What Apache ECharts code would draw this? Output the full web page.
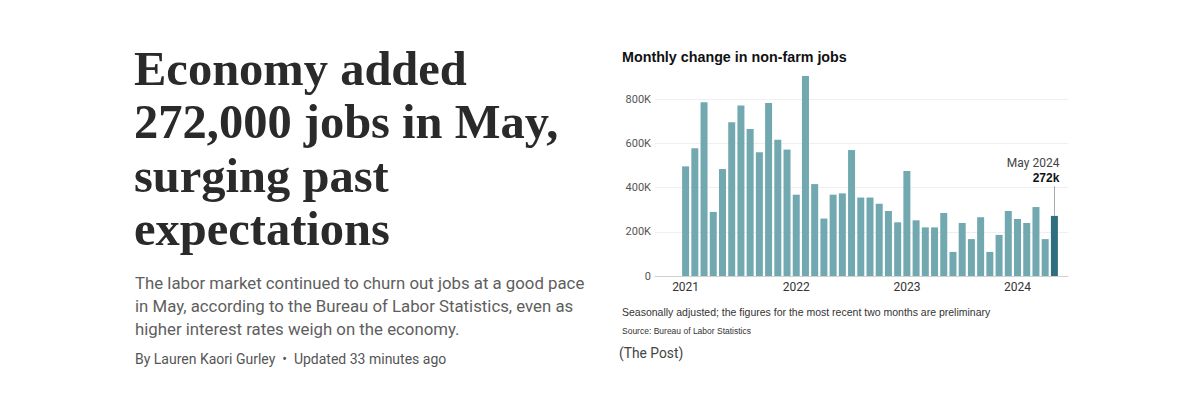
<!DOCTYPE html>
<html>
<head>
<meta charset="utf-8">
<script src="https://cdn.jsdelivr.net/npm/echarts@6/dist/echarts.min.js"></script>
<style>
  html, body { margin: 0; padding: 0; background: #fff; }
  #main { width: 1200px; height: 397px; }
</style>
</head>
<body>
<div id="main"></div>
<script>
// months shown on the chart, Jan 2021 .. May 2024
const months = [
  '2021-01', '2021-02', '2021-03', '2021-04', '2021-05', '2021-06',
  '2021-07', '2021-08', '2021-09', '2021-10', '2021-11', '2021-12',
  '2022-01', '2022-02', '2022-03', '2022-04', '2022-05', '2022-06',
  '2022-07', '2022-08', '2022-09', '2022-10', '2022-11', '2022-12',
  '2023-01', '2023-02', '2023-03', '2023-04', '2023-05', '2023-06',
  '2023-07', '2023-08', '2023-09', '2023-10', '2023-11', '2023-12',
  '2024-01', '2024-02', '2024-03', '2024-04', '2024-05'
];
// monthly change in non-farm jobs, thousands
const jobsAdded = [
  496, 578, 786, 290, 484, 696, 771, 665, 560, 783, 617, 572,
  368, 905, 416, 260, 368, 374, 570, 355, 355, 327, 294, 243,
  475, 252, 220, 220, 285, 109, 240, 167, 266, 109, 186, 294,
  258, 240, 312, 167, 272
];
const yTicks = [0, 200, 400, 600, 800];

const headline = ['Economy added', '272,000 jobs in May,', 'surging past', 'expectations'];
const dek = [
  'The labor market continued to churn out jobs at a good pace',
  'in May, according to the Bureau of Labor Statistics, even as',
  'higher interest rates weigh on the economy.'
];

const barColor = '#72a9b1';
const lastColor = '#2e6e80';
const lastIdx = months.length - 1;

const chart = echarts.init(document.getElementById('main'), null, { renderer: 'svg' });

const texts = [];
headline.forEach((line, i) => {
  texts.push({
    type: 'text', left: 134, top: 44 + i * 53.3,
    style: { text: line, font: 'bold 48.5px "Liberation Serif", serif', fill: '#2a2a2a' }
  });
});
dek.forEach((line, i) => {
  texts.push({
    type: 'text', left: 135, top: 274 + i * 23,
    style: { text: line, font: '16.8px Roboto, sans-serif', fill: '#5e5e5e' }
  });
});
texts.push(
  {
    type: 'text', left: 135, top: 352,
    style: { text: 'By Lauren Kaori Gurley  \u2022  Updated 33 minutes ago', font: '14px Roboto, sans-serif', fill: '#555' }
  },
  {
    type: 'text', left: 622, top: 50,
    style: { text: 'Monthly change in non-farm jobs', font: 'bold 14.3px "Liberation Sans", sans-serif', fill: '#111' }
  },
  {
    type: 'text', left: 622, top: 306,
    style: { text: 'Seasonally adjusted; the figures for the most recent two months are preliminary', font: '10.5px "Liberation Sans", sans-serif', fill: '#333' }
  },
  {
    type: 'text', left: 622, top: 326,
    style: { text: 'Source: Bureau of Labor Statistics', font: '8.5px "Liberation Sans", sans-serif', fill: '#333' }
  },
  {
    type: 'text', left: 619, top: 346,
    style: { text: '(The Post)', font: '13.8px Roboto, sans-serif', fill: '#444' }
  }
);

chart.setOption({
  backgroundColor: '#fff',
  animation: false,
  graphic: texts,
  grid: [
    // bars
    { left: 681, right: 141, top: 55, bottom: 121 },
    // frame: gridlines, y labels and zero line (wider than the bars)
    { left: 655, right: 132, top: 55, bottom: 121 }
  ],
  xAxis: [
    {
      gridIndex: 0,
      type: 'category',
      data: months,
      axisLine: { show: false },
      axisTick: { show: false },
      axisLabel: {
        margin: 5,
        color: '#333',
        fontSize: 12,
        fontFamily: 'Roboto, sans-serif',
        interval: (i, v) => v.endsWith('-01'),
        formatter: v => v.slice(0, 4)
      }
    },
    {
      gridIndex: 1,
      type: 'value',
      min: 0, max: 1,
      axisLine: { show: true, lineStyle: { color: '#cfcfcf', width: 1 } },
      axisTick: { show: false },
      axisLabel: { show: false },
      splitLine: { show: false }
    }
  ],
  yAxis: [
    {
      gridIndex: 0,
      type: 'value',
      min: 0, max: 1000, interval: 200,
      show: false,
      splitLine: { show: false }
    },
    {
      gridIndex: 1,
      type: 'value',
      min: 0, max: 1000, interval: 200,
      axisLine: { show: false },
      axisTick: { show: false },
      axisLabel: {
        margin: 4,
        color: '#555',
        fontSize: 11,
        fontFamily: 'Roboto, sans-serif',
        showMaxLabel: false,
        formatter: v => (yTicks.includes(v) ? (v === 0 ? '0' : v + 'K') : '')
      },
      splitLine: {
        show: true,
        showMinLine: false,
        showMaxLine: false,
        lineStyle: { color: '#efefef', width: 1 }
      }
    }
  ],
  series: [
    {
      type: 'bar',
      xAxisIndex: 0,
      yAxisIndex: 0,
      barWidth: 7,
      data: jobsAdded.map((v, i) => ({
        value: v,
        itemStyle: { color: i === lastIdx ? lastColor : barColor }
      })),
      markLine: {
        silent: true,
        symbol: 'none',
        lineStyle: { color: '#aaa', width: 1, type: 'solid' },
        label: { show: false },
        data: [[
          { coord: [lastIdx, jobsAdded[lastIdx]] },
          { coord: [lastIdx, 407] }
        ]]
      },
      markPoint: {
        silent: true,
        symbol: 'circle',
        symbolSize: 0,
        data: [{ coord: [lastIdx, 407] }],
        label: {
          show: true,
          position: 'top',
          distance: 1,
          align: 'right',
          offset: [5, 0],
          formatter: '{a|May 2024}\n{b|' + jobsAdded[lastIdx] + 'k}',
          rich: {
            a: { fontSize: 12, color: '#444', fontFamily: 'Roboto, sans-serif', lineHeight: 15, align: 'right' },
            b: { fontSize: 12, color: '#111', fontWeight: 'bold', fontFamily: '"Liberation Sans", sans-serif', lineHeight: 15, align: 'right' }
          }
        }
      }
    }
  ]
});
</script>
</body>
</html>
